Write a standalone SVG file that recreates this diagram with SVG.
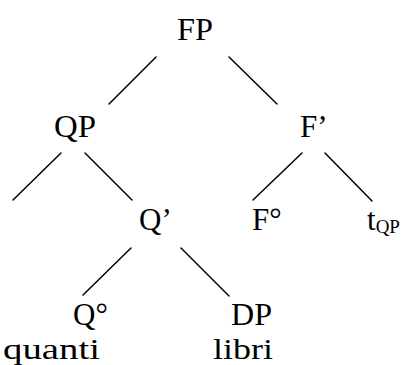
<svg xmlns="http://www.w3.org/2000/svg" width="402" height="365" viewBox="0 0 402 365">
<style>
text{font-family:"Liberation Serif","Times New Roman",Times,serif;font-size:31px;fill:#000}
.sub{font-size:19px}
.w{font-size:29px}
line{stroke:#000;stroke-width:1.5;stroke-linecap:round}
</style>
<rect width="402" height="365" fill="#fff"/>
<g id="connectors">
<line x1="156" y1="57" x2="109" y2="104"/>
<line x1="229" y1="57" x2="277" y2="104"/>
<line x1="61" y1="153" x2="13" y2="200"/>
<line x1="85" y1="153" x2="132" y2="200"/>
<line x1="302" y1="153" x2="253" y2="200"/>
<line x1="325" y1="153" x2="372" y2="201"/>
<line x1="131" y1="248" x2="83" y2="295"/>
<line x1="181" y1="248" x2="229" y2="296"/>
</g>
<g id="FP"><text x="177" y="40" textLength="36" lengthAdjust="spacingAndGlyphs">FP</text></g>
<g id="QP"><text x="54" y="137" textLength="42" lengthAdjust="spacingAndGlyphs">QP</text></g>
<g id="Fbar"><text x="300" y="137">F’</text></g>
<g id="Qbar"><text x="139" y="230">Q’</text></g>
<g id="F0"><text x="252" y="230">F°</text></g>
<g id="tQP"><text x="367" y="230">t<tspan class="sub" dy="3">QP</tspan></text></g>
<g id="Q0"><text x="73" y="325">Q°</text><text class="w" x="3" y="358.5" textLength="97" lengthAdjust="spacingAndGlyphs">quanti</text></g>
<g id="DP"><text x="231" y="325" textLength="41" lengthAdjust="spacingAndGlyphs">DP</text><text class="w" x="213" y="358.5" textLength="60" lengthAdjust="spacingAndGlyphs">libri</text></g>
</svg>
